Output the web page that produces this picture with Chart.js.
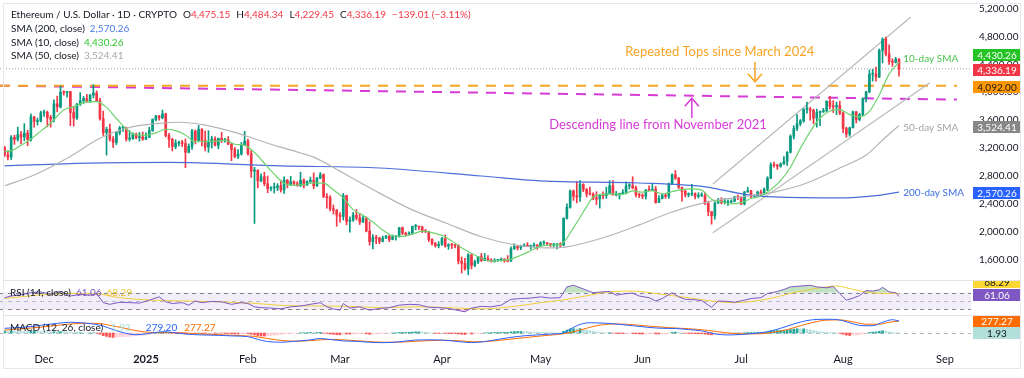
<!DOCTYPE html>
<html>
<head>
<meta charset="utf-8">
<script src="https://cdn.jsdelivr.net/npm/chart.js@4.4.1/dist/chart.umd.min.js"></script>
<style>
html,body{margin:0;padding:0;background:#fff;width:1024px;height:378px;overflow:hidden}
#wrap{position:relative;width:1024px;height:378px;background:#fff}
canvas{position:absolute;left:0}
#main{top:0}
#rsi{top:280px}
#macd{top:315px}
.sep{position:absolute;left:3px;width:1018px;height:1px;background:#e3e5ea}
#frame{position:absolute;left:3px;top:3px;width:1018px;height:366px;border:1px solid #e6e8ec;box-sizing:border-box;pointer-events:none}
</style>
</head>
<body>
<div id="wrap">
<canvas id="main" width="1024" height="280"></canvas>
<canvas id="rsi" width="1024" height="35"></canvas>
<canvas id="macd" width="1024" height="54"></canvas>
<div class="sep" style="top:280px"></div>
<div class="sep" style="top:315px"></div>
<div id="frame"></div>
</div>
<script>
// ---------------- DATA ----------------
const startDate = '2024-11-19'; // day index 0
// daily candles [open, high, low, close]
const ohlc = [
// Nov 2024 (19-30)
[3205,3225,3080,3105],[3105,3160,3030,3070],[3070,3380,3035,3355],[3355,3385,3255,3325],[3325,3500,3300,3395],[3395,3440,3260,3360],[3360,3550,3305,3415],[3415,3455,3235,3325],[3325,3690,3300,3650],[3650,3650,3500,3580],[3580,3630,3530,3590],[3590,3730,3575,3705],
// Dec 2024
[3705,3745,3655,3710],[3710,3730,3505,3640],[3640,3670,3500,3615],[3615,3890,3575,3835],[3835,3945,3720,3790],[3790,4090,3775,4000],[4000,4020,3960,3995],[3995,4010,3930,4010],[4010,4010,3520,3710],[3710,3800,3515,3630],[3630,3840,3610,3830],[3830,3995,3810,3880],[3880,3940,3840,3910],[3910,3970,3855,3870],[3870,3970,3850,3960],[3960,4107,3920,3990],[3990,4020,3870,3880],[3880,3915,3600,3620],[3620,3730,3380,3420],[3420,3500,3100,3470],[3470,3545,3300,3330],[3330,3365,3210,3280],[3280,3440,3250,3420],[3420,3510,3390,3490],[3490,3520,3440,3490],[3490,3500,3300,3330],[3330,3450,3300,3335],[3335,3420,3325,3400],[3400,3415,3330,3350],[3350,3425,3300,3360],[3360,3430,3310,3330],
// Jan 2025
[3330,3420,3320,3355],[3355,3500,3350,3450],[3450,3620,3440,3610],[3610,3670,3590,3660],[3660,3670,3600,3635],[3635,3745,3620,3690],[3690,3700,3360,3380],[3380,3410,3210,3325],[3325,3340,3160,3220],[3220,3320,3190,3270],[3270,3300,3230,3285],[3285,3310,3220,3265],[3265,3330,2920,3140],[3140,3260,3130,3225],[3225,3470,3180,3445],[3445,3460,3260,3310],[3310,3525,3300,3470],[3470,3480,3230,3310],[3310,3445,3160,3215],[3215,3450,3140,3280],[3280,3370,3200,3330],[3330,3360,3230,3240],[3240,3345,3190,3340],[3340,3425,3280,3310],[3310,3340,3285,3320],[3320,3365,3250,3255],[3255,3270,3020,3180],[3180,3210,3060,3080],[3080,3180,3050,3115],[3115,3280,3100,3250],[3250,3440,3240,3300],
// Feb 2025
[3300,3330,3100,3120],[3120,3165,2780,2870],[2870,2925,2120,2880],[2880,2890,2630,2730],[2730,2830,2715,2790],[2790,2855,2660,2690],[2690,2800,2560,2620],[2620,2650,2585,2630],[2630,2700,2555,2630],[2630,2690,2590,2660],[2660,2740,2570,2600],[2600,2790,2550,2740],[2740,2750,2630,2680],[2680,2795,2665,2720],[2720,2730,2675,2690],[2690,2720,2655,2660],[2660,2855,2650,2740],[2740,2760,2630,2670],[2670,2730,2665,2720],[2720,2785,2710,2740],[2740,2845,2620,2660],[2660,2780,2650,2770],[2770,2850,2760,2820],[2820,2830,2490,2510],[2510,2550,2340,2490],[2490,2520,2300,2330],[2330,2385,2255,2310],[2310,2320,2080,2240],
// Mar 2025
[2240,2275,2140,2220],[2220,2550,2170,2520],[2520,2525,2100,2150],[2150,2215,1995,2170],[2170,2280,2150,2240],[2240,2320,2170,2200],[2200,2260,2105,2140],[2140,2230,2135,2200],[2200,2215,2000,2010],[2010,2145,1810,1860],[1860,1960,1755,1920],[1920,1950,1830,1910],[1910,1925,1830,1865],[1865,1940,1855,1910],[1910,1950,1905,1940],[1940,1945,1860,1890],[1890,1955,1885,1930],[1930,1935,1880,1930],[1930,2065,1925,2060],[2060,2070,1960,1980],[1980,1995,1945,1965],[1965,2000,1965,1980],[1980,2080,1970,2080],[2080,2105,2030,2080],[2080,2080,2030,2070],[2070,2080,1990,2010],[2010,2035,1990,2000],[2000,2010,1860,1890],[1890,1905,1810,1830],[1830,1850,1780,1800],[1800,1860,1770,1820],
// Apr 2025
[1820,1920,1805,1905],[1905,1955,1780,1795],[1795,1830,1750,1815],[1815,1835,1760,1810],[1810,1820,1770,1805],[1805,1815,1540,1580],[1580,1640,1410,1550],[1550,1620,1450,1470],[1470,1690,1385,1670],[1670,1675,1470,1520],[1520,1595,1500,1570],[1570,1650,1545,1645],[1645,1690,1575,1590],[1590,1690,1585,1620],[1620,1660,1580,1590],[1590,1615,1565,1580],[1580,1615,1565,1590],[1590,1600,1575,1590],[1590,1625,1580,1610],[1610,1615,1565,1590],[1590,1660,1570,1580],[1580,1785,1575,1760],[1760,1830,1745,1790],[1790,1800,1740,1770],[1770,1810,1745,1790],[1790,1830,1790,1810],[1810,1845,1790,1790],[1790,1810,1750,1800],[1800,1840,1780,1800],[1800,1820,1750,1795],
// May 2025
[1795,1860,1795,1840],[1840,1870,1820,1840],[1840,1845,1815,1830],[1830,1835,1790,1810],[1810,1835,1785,1815],[1815,1830,1755,1820],[1820,1845,1780,1810],[1810,2200,1800,2195],[2195,2400,2180,2350],[2350,2600,2340,2585],[2585,2600,2450,2510],[2510,2720,2415,2500],[2500,2735,2435,2680],[2680,2690,2575,2610],[2610,2620,2500,2545],[2545,2640,2525,2540],[2540,2560,2460,2480],[2480,2575,2390,2470],[2470,2530,2340,2525],[2525,2575,2470,2520],[2520,2640,2480,2550],[2550,2735,2540,2660],[2660,2735,2525,2530],[2530,2580,2515,2530],[2530,2555,2470,2550],[2550,2605,2540,2565],[2565,2715,2545,2660],[2660,2690,2615,2660],[2660,2790,2615,2630],[2630,2655,2500,2530],[2530,2550,2490,2525],
// Jun 2025
[2525,2545,2475,2510],[2510,2605,2470,2600],[2600,2660,2590,2595],[2595,2680,2590,2610],[2610,2650,2410,2420],[2420,2520,2420,2480],[2480,2545,2470,2525],[2525,2540,2480,2510],[2510,2700,2480,2690],[2690,2830,2680,2820],[2820,2880,2750,2770],[2770,2780,2620,2640],[2640,2640,2440,2580],[2580,2600,2500,2530],[2530,2560,2500,2540],[2540,2680,2520,2550],[2550,2560,2470,2510],[2510,2560,2485,2520],[2520,2560,2505,2520],[2520,2560,2390,2410],[2410,2440,2230,2290],[2290,2290,2110,2230],[2230,2430,2180,2410],[2410,2480,2410,2450],[2450,2490,2400,2420],[2420,2480,2400,2420],[2420,2460,2380,2425],[2425,2460,2420,2440],[2440,2510,2430,2500],[2500,2525,2460,2490],
// Jul 2025
[2490,2500,2390,2400],[2400,2580,2385,2570],[2570,2640,2570,2590],[2590,2595,2480,2510],[2510,2530,2500,2520],[2520,2585,2510,2570],[2570,2600,2520,2540],[2540,2630,2530,2610],[2610,2790,2590,2770],[2770,2990,2760,2960],[2960,3000,2925,2950],[2950,2970,2895,2940],[2940,2990,2925,2970],[2970,3080,2970,3010],[3010,3150,2950,3140],[3140,3390,3130,3370],[3370,3520,3330,3480],[3480,3680,3450,3550],[3550,3610,3520,3590],[3590,3760,3570,3760],[3760,3860,3700,3760],[3760,3785,3600,3740],[3740,3760,3550,3630],[3630,3760,3500,3710],[3710,3735,3520,3720],[3720,3770,3710,3740],[3740,3880,3720,3870],[3870,3940,3760,3800],[3800,3880,3710,3790],[3790,3860,3680,3810],[3810,3870,3680,3700],
// Aug 2025 (1-18)
[3700,3720,3420,3480],[3480,3500,3355,3400],[3400,3500,3370,3490],[3490,3730,3490,3720],[3720,3725,3560,3610],[3610,3700,3590,3680],[3680,3920,3665,3910],[3910,4010,3860,4010],[4010,4320,3990,4260],[4260,4330,4160,4260],[4260,4360,4160,4220],[4220,4620,4210,4600],[4600,4780,4420,4760],[4760,4790,4520,4550],[4550,4680,4400,4440],[4440,4480,4370,4430],[4430,4500,4420,4475.2],[4475.15,4484.34,4229.45,4336.19]
];

// indicator lines: [day index, value]
const sma10 = [[0,3150],[2,3160],[5,3240],[8,3330],[10,3406],[14,3559],[18,3746],[21,3794],[25,3863],[28,3867],[31,3783],[34,3624],[37,3473],[40,3390],[43,3386],[46,3418],[49,3470],[52,3450],[55,3387],[58,3287],[61,3294],[64,3297],[67,3313],[70,3255],[73,3239],[76,3137],[79,2983],[82,2826],[85,2697],[88,2666],[91,2679],[94,2702],[97,2698],[100,2602],[103,2487],[106,2318],[109,2239],[112,2141],[115,2026],[118,1944],[121,1934],[124,1967],[127,2009],[130,1989],[133,1949],[136,1870],[139,1771],[142,1692],[145,1621],[148,1581],[151,1591],[154,1610],[157,1665],[160,1729],[163,1795],[166,1811],[169,1816],[171,1911],[173,2057],[175,2208],[177,2361],[179,2500],[182,2538],[185,2543],[188,2538],[191,2586],[194,2569],[197,2589],[200,2543],[203,2576],[206,2605],[209,2616],[212,2598],[215,2468],[218,2431],[221,2402],[224,2419],[227,2477],[230,2513],[233,2604],[236,2734],[239,2926],[242,3196],[245,3437],[248,3631],[251,3732],[254,3751],[257,3680],[260,3648],[263,3726],[266,3960],[269,4260],[272,4430.26]];
const sma50 = [[0,2660],[9,2815],[19,3055],[29,3340],[37,3485],[47,3555],[53,3570],[61,3530],[70,3425],[80,3270],[90,3130],[94,3070],[104,2815],[114,2555],[124,2315],[134,2130],[145,1930],[155,1815],[165,1770],[171,1785],[183,1930],[193,2100],[203,2285],[214,2430],[224,2500],[234,2570],[244,2700],[254,2915],[262,3100],[267,3315],[272,3524.41]];
const sma200 = [[0,2945],[25,2985],[50,2995],[84,2945],[114,2915],[145,2800],[163,2730],[193,2700],[213,2645],[226,2530],[234,2500],[254,2486],[265,2520],[272,2570.26]];

const rsi = [[0,58],[2,62],[5,65],[8,70],[11,72],[14,66],[17,73],[20,62],[23,66],[26,64],[28,68],[30,46],[32,42],[35,47],[38,46],[41,45],[44,52],[47,60],[49,48],[51,44],[54,46],[56,40],[58,50],[60,46],[63,49],[66,48],[69,42],[72,46],[74,44],[76,36],[78,34],[81,33],[84,31],[87,36],[90,38],[93,42],[96,46],[98,36],[100,31],[102,28],[103,44],[105,33],[108,36],[111,28],[114,32],[117,34],[120,40],[123,42],[126,41],[129,35],[132,34],[135,32],[138,27],[140,24],[142,33],[145,37],[148,36],[151,40],[154,54],[157,56],[160,57],[163,60],[166,57],[169,58],[171,84],[173,88],[175,82],[177,76],[179,70],[182,72],[184,73],[186,64],[189,68],[191,69],[193,62],[196,58],[198,50],[200,56],[203,70],[205,60],[207,54],[210,53],[212,51],[214,40],[215,35],[217,50],[220,49],[222,47],[225,52],[227,56],[230,58],[232,68],[235,73],[237,78],[239,84],[242,86],[245,88],[247,84],[250,82],[252,85],[254,68],[256,52],[258,57],[260,63],[262,75],[264,74],[266,77],[267,83],[269,72],[271,70],[272,61.06]];
const rsiMa = [[0,56],[10,64],[20,68],[28,67],[35,58],[45,52],[55,50],[65,48],[75,45],[85,39],[95,38],[105,37],[115,34],[125,36],[135,34],[145,31],[155,37],[163,46],[171,54],[178,64],[185,73],[191,74],[200,66],[206,60],[215,50],[222,46],[232,55],[240,70],[248,82],[253,86],[258,78],[265,69],[272,68.29]];

const macdLine = [[0,110],[4,125],[8,150],[12,190],[16,225],[20,250],[23,240],[27,210],[30,160],[33,80],[36,10],[40,-40],[44,-10],[48,30],[51,15],[55,-25],[60,-45],[65,-55],[70,-70],[74,-85],[77,-150],[80,-200],[84,-215],[88,-195],[92,-170],[96,-130],[99,-150],[103,-185],[107,-195],[111,-215],[115,-226],[120,-205],[125,-165],[130,-160],[134,-170],[138,-200],[142,-225],[146,-200],[150,-150],[154,-100],[158,-65],[162,-45],[166,-25],[170,0],[172,90],[175,200],[178,240],[182,232],[186,210],[191,170],[196,130],[200,110],[204,105],[208,80],[212,50],[216,-20],[220,-45],[224,-35],[228,-10],[232,30],[236,110],[240,210],[244,290],[248,320],[252,320],[255,285],[258,215],[261,170],[264,170],[267,250],[270,310],[272,279.2]];
const macdSignal = [[0,70],[6,100],[12,145],[18,195],[24,225],[28,225],[32,180],[36,120],[40,55],[44,15],[48,5],[52,10],[58,-15],[64,-35],[70,-55],[76,-80],[80,-130],[85,-180],[90,-190],[96,-160],[100,-150],[105,-170],[110,-195],[115,-215],[121,-210],[127,-185],[133,-170],[138,-180],[143,-205],[148,-190],[153,-150],[158,-110],[163,-70],[168,-35],[172,10],[176,90],[180,170],[185,210],[190,200],[196,160],[202,125],[208,100],[214,60],[219,10],[224,-20],[229,-20],[234,20],[238,80],[242,170],[246,250],[250,300],[254,305],[258,260],[262,205],[266,205],[269,250],[272,277.27]];
// daily histogram
const macdHist = [
45,42,48,46,44,40,36,34,40,42,38,36,
34,30,26,30,28,32,30,26,12,2,4,6,4,0,2,4,-2,-30,-62,-80,-96,-104,-100,-92,-86,-80,-76,-70,-62,-56,-50,
-42,-28,-12,2,12,20,22,6,-4,-10,-12,-12,-20,-18,-8,-8,0,-4,-10,-8,-6,-8,-4,-4,-6,-10,-16,-22,-22,-16,-10,
-14,-30,-46,-62,-70,-72,-70,-62,-52,-42,-34,-22,-14,-8,-4,-2,4,4,8,12,10,12,16,-2,-12,-24,-32,-40,
-42,-20,-24,-26,-22,-20,-18,-14,-20,-28,-26,-22,-18,-10,-4,-2,2,4,12,14,14,16,22,26,26,24,20,10,0,-8,-10,
-6,-10,-12,-12,-12,-22,-30,-36,-22,-22,-16,-8,-4,2,6,8,10,12,14,14,14,26,34,36,36,34,30,26,22,18,
16,14,12,8,6,4,2,40,70,96,100,98,102,88,70,56,40,26,18,10,4,6,-2,-8,-12,-14,-10,-8,-10,-18,-22,
-24,-20,-18,-14,-22,-22,-20,-18,-4,14,20,12,2,-6,-10,-12,-16,-18,-20,-26,-36,-44,-38,-30,-24,-18,-12,-6,0,2,
-2,4,10,10,10,12,12,14,26,46,54,58,58,58,64,80,92,100,98,98,90,74,54,40,28,22,20,16,10,4,-8,
-30,-50,-58,-48,-46,-38,-22,-6,14,22,26,40,52,44,30,18,8,1.93
];

// levels and drawn lines: [day index, price]
const repeatedTops = [[-1.4,4092],[289.6,4092]];
const descendingLine = [[-1.4,4095],[289.6,3895]];
const channelUpper = [[215.4,2686],[275.6,5078]];
const channelLower = [[215.4,1988],[281.4,4137]];
const priceTicks = [1600,2000,2400,2800,3200,3600,4000,4400,4800,5200];
const monthTickDays = [12,43,74,102,133,163,194,224,255,286];
const monthTickLabels = ['Dec','2025','Feb','Mar','Apr','May','Jun','Jul','Aug','Sep'];

// ---------------- STYLE / HELPERS ----------------
const FONT = 'Lato, "Noto Sans", sans-serif';
const UP = '#089981', DOWN = '#f23645';
const X_MIN = -1.4, X_MAX = 293.9, AXIS_W = 53;
const fmt = v => v.toLocaleString('en-US',{minimumFractionDigits:2,maximumFractionDigits:2});
const pts = arr => arr.map(([x,y]) => ({x, y}));
Chart.defaults.font.family = FONT;
Chart.defaults.animation = false;

function noPad(s){ s.paddingTop = 0; s.paddingBottom = 0; s.paddingLeft = 0; s.paddingRight = 0; }
function xAxis(show){
  const ax = {
    type:'linear', min:X_MIN, max:X_MAX, offset:false, display:show,
    grid:{display:false, drawTicks:false}, border:{display:false},
    afterBuildTicks: s => { s.ticks = monthTickDays.map(v => ({value:v})); },
    ticks:{ autoSkip:false, maxRotation:0, padding:5, color:'#131722',
      callback: v => monthTickLabels[monthTickDays.indexOf(v)],
      font: c => ({size:11, family:FONT, weight: (c.tick && c.tick.value === 43) ? 'bold' : 'normal'}) }
  };
  if (show) ax.afterFit = s => { s.height = 21; noPad(s); };
  return ax;
}
function yAxisHidden(min, max){
  return { type:'linear', position:'right', min, max, grid:{display:false, drawTicks:false}, border:{display:false},
    ticks:{display:false}, afterFit: s => { s.width = AXIS_W; noPad(s); } };
}
function drawTag(ctx, chart, y, text, bg, fg){
  const x = chart.chartArea.right + 2, w = 48, h = 12;
  ctx.fillStyle = bg;
  ctx.fillRect(x, Math.round(y - h/2), w, h);
  ctx.fillStyle = fg;
  ctx.font = `10px ${FONT}`;
  ctx.textAlign = 'center'; ctx.textBaseline = 'middle';
  ctx.fillText(text, x + w/2, Math.round(y - h/2) + h/2 + 0.5);
}
// segments: [text, colour, gap before in px]
function drawSegs(ctx, x, y, segs, size){
  ctx.font = `${size}px ${FONT}`;
  ctx.textAlign = 'left'; ctx.textBaseline = 'middle';
  for (const [t, c, g] of segs){ x += (g || 0); ctx.fillStyle = c; ctx.fillText(t, x, y); x += ctx.measureText(t).width; }
}
function arrow(ctx, x, yFrom, yTo, color){
  ctx.strokeStyle = color; ctx.lineWidth = 1.5;
  ctx.beginPath(); ctx.moveTo(x, yFrom); ctx.lineTo(x, yTo); ctx.stroke();
  const d = yTo > yFrom ? -1 : 1;
  ctx.beginPath(); ctx.moveTo(x - 7, yTo + d*8); ctx.lineTo(x, yTo); ctx.lineTo(x + 7, yTo + d*8); ctx.stroke();
}

// ---------------- MAIN PANE ----------------
const last = ohlc[ohlc.length-1];
const prevClose = ohlc[ohlc.length-2][3];
const chg = last[3] - prevClose;
const DARK = '#131722';

const mainOverlay = {
  id:'mainOverlay',
  afterDraw(chart){
    const {ctx, scales:{x, y}} = chart;
    ctx.save();
    // annotations
    ctx.font = `13px ${FONT}`; ctx.textAlign = 'center'; ctx.textBaseline = 'middle';
    ctx.fillStyle = '#f5a524';
    ctx.fillText('Repeated Tops since March 2024', x.getPixelForValue(217.5), y.getPixelForValue(4577));
    arrow(ctx, x.getPixelForValue(228.2), y.getPixelForValue(4434), y.getPixelForValue(4150), '#f5a524');
    ctx.fillStyle = '#d63bd6';
    ctx.font = `13px ${FONT}`; ctx.textAlign = 'center'; ctx.textBaseline = 'middle';
    ctx.fillText('Descending line from November 2021', x.getPixelForValue(198.7), y.getPixelForValue(3531));
    arrow(ctx, x.getPixelForValue(209), y.getPixelForValue(3631), y.getPixelForValue(3915), '#d63bd6');
    // SMA labels
    const lx = x.getPixelForValue(273.3);
    ctx.font = `10px ${FONT}`; ctx.textAlign = 'left'; ctx.textBaseline = 'middle';
    ctx.fillStyle = '#4cc24c'; ctx.fillText('10-day SMA', lx, y.getPixelForValue(sma10[sma10.length-1][1]) - 3);
    ctx.fillStyle = '#a3a3a3'; ctx.fillText('50-day SMA', lx, y.getPixelForValue(sma50[sma50.length-1][1]) + 2);
    ctx.fillStyle = '#3d6fe0'; ctx.fillText('200-day SMA', lx, y.getPixelForValue(sma200[sma200.length-1][1]) + 1);
    // legend
    drawSegs(ctx, 11, 15, [
      ['Ethereum / U.S. Dollar · 1D · CRYPTO', DARK], ['O', DARK, 6], [fmt(last[0]), DOWN], ['H', DARK, 6], [fmt(last[1]), DOWN],
      ['L', DARK, 6], [fmt(last[2]), DOWN], ['C', DARK, 6], [fmt(last[3]), DOWN],
      [(chg < 0 ? '−' : '+') + fmt(Math.abs(chg)) + ' (' + (chg < 0 ? '−' : '+') + fmt(Math.abs(chg/prevClose*100)) + '%)', DOWN, 6]
    ], 10);
    drawSegs(ctx, 11, 29, [['SMA (200, close)', DARK], [fmt(sma200[sma200.length-1][1]), '#4a78e6', 5]], 10);
    drawSegs(ctx, 11, 42.5, [['SMA (10, close)', DARK], [fmt(sma10[sma10.length-1][1]), '#2ec52e', 5]], 10);
    drawSegs(ctx, 11, 56, [['SMA (50, close)', DARK], [fmt(sma50[sma50.length-1][1]), '#a8a8a8', 5]], 10);
    // price tags
    drawTag(ctx, chart, y.getPixelForValue(sma10[sma10.length-1][1]) - 7, fmt(sma10[sma10.length-1][1]), '#22c322', '#fff');
    drawTag(ctx, chart, y.getPixelForValue(last[3]) + 1.5, fmt(last[3]), DOWN, '#fff');
    drawTag(ctx, chart, y.getPixelForValue(repeatedTops[0][1]) + 1.5, fmt(repeatedTops[0][1]), '#ff9800', DARK);
    drawTag(ctx, chart, y.getPixelForValue(sma50[sma50.length-1][1]) + 2, fmt(sma50[sma50.length-1][1]), '#878787', '#fff');
    drawTag(ctx, chart, y.getPixelForValue(sma200[sma200.length-1][1]) + 1, fmt(sma200[sma200.length-1][1]), '#2962ff', '#fff');
    ctx.restore();
  }
};

const candleColor = c => { const d = ohlc[c.dataIndex]; return d && d[3] >= d[0] ? UP : DOWN; };
new Chart(document.getElementById('main'), {
  type:'bar',
  data:{ datasets:[
    {type:'line', data:pts(sma10), borderColor:'#6fd36f', borderWidth:1.2, pointRadius:0, cubicInterpolationMode:'monotone', order:1},
    {type:'line', data:pts(sma50), borderColor:'#b5b5b5', borderWidth:1.2, pointRadius:0, cubicInterpolationMode:'monotone', order:2},
    {type:'line', data:pts(sma200), borderColor:'#4a6fd8', borderWidth:1.2, pointRadius:0, cubicInterpolationMode:'monotone', order:3},
    {type:'bar', data:ohlc.map((d,i)=>({x:i, y:[d[0], d[3]]})), backgroundColor:candleColor, barThickness:2, minBarLength:1, grouped:false, order:4},
    {type:'bar', data:ohlc.map((d,i)=>({x:i, y:[d[2], d[1]]})), backgroundColor:candleColor, barThickness:1, grouped:false, order:5},
    {type:'line', data:pts(channelUpper), borderColor:'#bcbcbc', borderWidth:1.3, pointRadius:0, order:6},
    {type:'line', data:pts(channelLower), borderColor:'#bcbcbc', borderWidth:1.3, pointRadius:0, order:6},
    {type:'line', data:[{x:X_MIN,y:last[3]},{x:X_MAX,y:last[3]}], borderColor:'#9a9ca3', borderWidth:1, borderDash:[1,2], pointRadius:0, order:7},
    {type:'line', data:pts(repeatedTops), borderColor:'#f5a524', borderWidth:2, borderDash:[10,8], pointRadius:0, order:8},
    {type:'line', data:pts(descendingLine), borderColor:'#d63bd6', borderWidth:2, borderDash:[10,8], pointRadius:0, order:9}
  ]},
  options:{
    responsive:false, devicePixelRatio:1, animation:false,
    layout:{padding:0},
    plugins:{legend:{display:false}, tooltip:{enabled:false}},
    scales:{
      x:{type:'linear', min:X_MIN, max:X_MAX, display:false, offset:false, grid:{display:false}},
      y:{type:'linear', position:'right', min:1310, max:5322, grid:{display:false, drawTicks:false}, border:{display:false},
        afterBuildTicks: s => { s.ticks = priceTicks.map(v => ({value:v})); },
        afterFit: s => { s.width = AXIS_W; noPad(s); },
        ticks:{padding:8, color:'#131722', font:{size:10, family:FONT}, callback: v => fmt(v)}}
    }
  },
  plugins:[mainOverlay]
});

// ---------------- RSI PANE ----------------
const rsiOverlay = {
  id:'rsiOverlay',
  beforeDatasetsDraw(chart){
    const {ctx, chartArea:a, scales:{y}} = chart;
    ctx.save();
    const y70 = y.getPixelForValue(70), y30 = y.getPixelForValue(30), y50 = y.getPixelForValue(50);
    ctx.fillStyle = 'rgba(126,87,194,0.10)';
    ctx.fillRect(a.left, y70, a.right - a.left, y30 - y70);
    ctx.setLineDash([4,4]); ctx.lineWidth = 1;
    ctx.strokeStyle = 'rgba(120,123,134,0.9)';
    for (const yy of [y70, y30]){ ctx.beginPath(); ctx.moveTo(a.left, Math.round(yy)+0.5); ctx.lineTo(a.right, Math.round(yy)+0.5); ctx.stroke(); }
    ctx.strokeStyle = 'rgba(120,123,134,0.45)';
    ctx.beginPath(); ctx.moveTo(a.left, Math.round(y50)+0.5); ctx.lineTo(a.right, Math.round(y50)+0.5); ctx.stroke();
    ctx.restore();
  },
  afterDraw(chart){
    const {ctx, scales:{y}} = chart;
    ctx.save();
    drawSegs(ctx, 10, 13, [['RSI (14, close)', DARK], [fmt(rsi[rsi.length-1][1]), '#7e57c2', 5], [fmt(rsiMa[rsiMa.length-1][1]), '#e6c22e', 5]], 10);
    drawTag(ctx, chart, y.getPixelForValue(rsiMa[rsiMa.length-1][1]) - 11, fmt(rsiMa[rsiMa.length-1][1]), '#fdd835', DARK);
    drawTag(ctx, chart, y.getPixelForValue(rsi[rsi.length-1][1]) - 1, fmt(rsi[rsi.length-1][1]), '#7e57c2', '#fff');
    ctx.restore();
  }
};
new Chart(document.getElementById('rsi'), {
  type:'line',
  data:{ datasets:[
    {data:pts(rsi), borderWidth:0, pointRadius:0, fill:{target:{value:70}, above:'rgba(76,175,80,0.35)', below:'rgba(0,0,0,0)'}, order:3},
    {data:pts(rsi), borderWidth:0, pointRadius:0, fill:{target:{value:30}, above:'rgba(0,0,0,0)', below:'rgba(242,54,69,0.30)'}, order:3},
    {data:pts(rsiMa), borderColor:'#f2cf3a', borderWidth:1, pointRadius:0, cubicInterpolationMode:'monotone', fill:false, order:2},
    {data:pts(rsi), borderColor:'#7e57c2', borderWidth:1, pointRadius:0, fill:false, order:1}
  ]},
  options:{
    responsive:false, devicePixelRatio:1, animation:false, layout:{padding:0},
    plugins:{legend:{display:false}, tooltip:{enabled:false}},
    scales:{ x:xAxis(false), y:yAxisHidden(16.3, 100.6) }
  },
  plugins:[rsiOverlay]
});

// ---------------- MACD PANE ----------------
const histColor = c => {
  const i = c.dataIndex, v = macdHist[i], p = i > 0 ? macdHist[i-1] : v;
  if (v >= 0) return v >= p ? '#26a69a' : '#b2dfdb';
  return v <= p ? '#ff5252' : '#ffcdd2';
};
const macdOverlay = {
  id:'macdOverlay',
  beforeDatasetsDraw(chart){
    const {ctx, chartArea:a, scales:{y}} = chart;
    ctx.save();
    const y0 = Math.round(y.getPixelForValue(0)) + 0.5;
    ctx.setLineDash([4,4]); ctx.lineWidth = 1; ctx.strokeStyle = 'rgba(120,123,134,0.55)';
    ctx.beginPath(); ctx.moveTo(a.left, y0); ctx.lineTo(a.right, y0); ctx.stroke();
    ctx.restore();
  },
  afterDraw(chart){
    const {ctx, scales:{y}} = chart;
    ctx.save();
    drawSegs(ctx, 10, 13, [['MACD (12, 26, close)', DARK], [fmt(macdHist[macdHist.length-1]), '#9fd6cf', 8], [fmt(macdLine[macdLine.length-1][1]), '#2962ff', 15], [fmt(macdSignal[macdSignal.length-1][1]), '#ff6d00', 7]], 10);
    drawTag(ctx, chart, y.getPixelForValue(macdSignal[macdSignal.length-1][1]), fmt(macdSignal[macdSignal.length-1][1]), '#ff6d00', '#fff');
    drawTag(ctx, chart, y.getPixelForValue(macdHist[macdHist.length-1]) + 0.5, fmt(macdHist[macdHist.length-1]), '#b2dfdb', DARK);
    ctx.restore();
  }
};
new Chart(document.getElementById('macd'), {
  type:'bar',
  data:{ datasets:[
    {type:'line', data:pts(macdLine), borderColor:'#2962ff', borderWidth:1, pointRadius:0, cubicInterpolationMode:'monotone', order:1},
    {type:'line', data:pts(macdSignal), borderColor:'#ff6d00', borderWidth:1, pointRadius:0, cubicInterpolationMode:'monotone', order:2},
    {type:'bar', data:macdHist.map((v,i)=>({x:i, y:v})), backgroundColor:histColor, barThickness:2, grouped:false, order:3}
  ]},
  options:{
    responsive:false, devicePixelRatio:1, animation:false, layout:{padding:0},
    plugins:{legend:{display:false}, tooltip:{enabled:false}},
    scales:{ x:xAxis(true), y:yAxisHidden(-350, 420) }
  },
  plugins:[macdOverlay]
});
</script>
</body>
</html>
